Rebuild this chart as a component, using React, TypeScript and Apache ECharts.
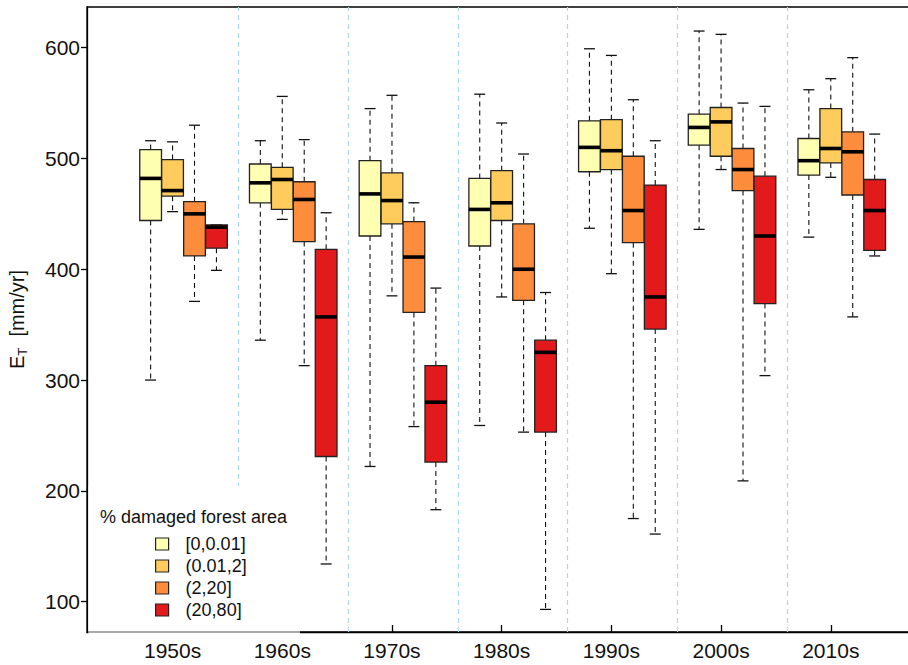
import React, { useRef, useEffect } from 'react'
import * as echarts from 'echarts'

// decades on the x axis
const decades = ['1950s', '1960s', '1970s', '1980s', '1990s', '2000s', '2010s']
// damaged forest area classes
const classNames = ['[0,0.01]', '(0.01,2]', '(2,20]', '(20,80]']
const classColors = ['#ffffb2', '#fecc5c', '#fd8d3c', '#e31a1c']

// per decade: [lower whisker, Q1, median, Q3, upper whisker]  (mm/yr)
const class1 = [
  [300, 444, 482, 508, 516],
  [336, 460, 478, 495, 516],
  [222, 430, 468, 498, 545],
  [259, 421, 454, 482, 558],
  [437, 488, 510, 534, 599],
  [436, 512, 528, 540, 615],
  [429, 485, 498, 518, 562],
]
const class2 = [
  [452, 466, 471, 499, 515],
  [445, 454, 481, 492, 556],
  [376, 441, 462, 487, 557],
  [375, 444, 460, 489, 532],
  [396, 490, 507, 535, 593],
  [490, 502, 533, 546, 612],
  [483, 496, 509, 545, 572],
]
const class3 = [
  [371, 412, 450, 461, 530],
  [313, 425, 463, 479, 517],
  [258, 361, 411, 443, 460],
  [253, 372, 400, 441, 504],
  [175, 424, 453, 502, 553],
  [209, 471, 490, 509, 550],
  [357, 467, 506, 524, 591],
]
const class4 = [
  [399, 419, 438, 440, 440],
  [134, 231, 357, 418, 451],
  [183, 226, 280, 313, 383],
  [93, 253, 325, 336, 379],
  [161, 346, 375, 476, 516],
  [304, 369, 430, 484, 547],
  [412, 417, 453, 481, 522],
]
const classData = [class1, class2, class3, class4]

const yTicks = [100, 200, 300, 400, 500, 600]
const decadeTicks = [2, 7, 12, 17, 22, 27, 32]
const dividers = [5, 10, 15, 20, 25, 30]

const FONT = 'Liberation Sans, Arial, sans-serif'

const App: React.FC = () => {
  const chartRef = useRef<HTMLDivElement>(null)

  useEffect(() => {
    if (!chartRef.current) return
    const chart = echarts.init(chartRef.current, null, { renderer: 'svg' })

    const renderBox = (params: any, api: any) => {
      const x = api.value(0)
      const lo = api.coord([x, api.value(1)])
      const q1 = api.coord([x, api.value(2)])
      const md = api.coord([x, api.value(3)])
      const q3 = api.coord([x, api.value(4)])
      const hi = api.coord([x, api.value(5)])
      const w = api.size([1, 0])[0]
      const bw = w * 0.99
      const cw = w * 0.25
      const cx = lo[0]
      const whisker = { stroke: '#111', lineWidth: 1.1, lineDash: [5, 4] }
      const cap = { stroke: '#111', lineWidth: 1.3 }
      return {
        type: 'group',
        children: [
          { type: 'line', shape: { x1: cx, y1: q3[1], x2: cx, y2: hi[1] }, style: whisker },
          { type: 'line', shape: { x1: cx, y1: q1[1], x2: cx, y2: lo[1] }, style: whisker },
          { type: 'line', shape: { x1: cx - cw, y1: hi[1], x2: cx + cw, y2: hi[1] }, style: cap },
          { type: 'line', shape: { x1: cx - cw, y1: lo[1], x2: cx + cw, y2: lo[1] }, style: cap },
          {
            type: 'rect',
            shape: { x: cx - bw / 2, y: q3[1], width: bw, height: q1[1] - q3[1] },
            style: { fill: api.visual('color'), stroke: '#222', lineWidth: 1.3 },
          },
          {
            type: 'line',
            shape: { x1: cx - bw / 2, y1: md[1], x2: cx + bw / 2, y2: md[1] },
            style: { stroke: '#000', lineWidth: 3.6 },
          },
        ],
      }
    }

    const series: any[] = classData.map((rows, c) => ({
      name: classNames[c],
      type: 'custom',
      renderItem: renderBox,
      itemStyle: { color: classColors[c], borderColor: '#000', borderWidth: 1 },
      encode: { x: 0, y: [1, 2, 3, 4, 5] },
      data: rows.map((r, d) => [1 + 5 * d + c, ...r]),
      z: 3,
      markLine:
        c === 0
          ? {
              silent: true,
              symbol: 'none',
              label: { show: false },
              lineStyle: { color: '#add8e6', width: 1.2, type: [5, 4] },
              data: dividers.map((v) => ({ xAxis: v })),
              z: 1,
            }
          : undefined,
    }))

    chart.setOption({
      animation: false,
      grid: {
        left: 87,
        top: 7,
        width: 830,
        height: 625,
        show: true,
        borderColor: '#000',
        borderWidth: 1.3,
        backgroundColor: 'transparent',
        outerBoundsMode: 'none',
      },
      xAxis: {
        type: 'value',
        min: -1.9,
        max: 35.93,
        splitLine: { show: false },
        axisLine: { show: true, onZero: false, lineStyle: { color: '#000', width: 1.3 } },
        axisTick: {
          show: true,
          inside: true,
          length: 7,
          customValues: decadeTicks,
          lineStyle: { color: '#000', width: 1.3 },
        },
        axisLabel: {
          customValues: decadeTicks,
          formatter: (v: number) => decades[Math.round((v - 2) / 5)] ?? '',
          fontSize: 21,
          color: '#111',
          fontFamily: FONT,
          margin: 8,
        },
      },
      yAxis: {
        type: 'value',
        min: 72.6,
        max: 636.7,
        splitLine: { show: false },
        axisLine: { show: true, onZero: false, lineStyle: { color: '#000', width: 1.3 } },
        axisTick: {
          show: true,
          length: 6,
          customValues: yTicks,
          lineStyle: { color: '#000', width: 1.3 },
        },
        axisLabel: {
          customValues: yTicks,
          fontSize: 21,
          color: '#111',
          fontFamily: FONT,
          margin: 7,
        },
        name: '{e|E}{t|T}{e|  [mm/yr]}',
        nameLocation: 'middle',
        nameGap: 58,
        nameRotate: 90,
        nameTextStyle: {
          color: '#111',
          fontFamily: FONT,
          fontSize: 20,
          rich: {
            e: { fontSize: 20, lineHeight: 24, verticalAlign: 'middle', fontFamily: FONT, color: '#111' },
            t: { fontSize: 13, verticalAlign: 'bottom', fontFamily: FONT, color: '#111' },
          },
        },
      },
      legend: {
        data: classNames,
        orient: 'vertical',
        left: 155,
        top: 535,
        padding: 0,
        itemWidth: 13,
        itemHeight: 12,
        itemGap: 4,
        icon: 'rect',
        itemStyle: { borderColor: '#222', borderWidth: 1.2 },
        textStyle: {
          fontSize: 18,
          lineHeight: 18,
          color: '#111',
          fontFamily: FONT,
          padding: [0, 0, 0, 12],
        },
        selectedMode: false,
        z: 6,
      },
      graphic: [
        {
          type: 'rect',
          shape: { x: 88.6, y: 486, width: 211.4, height: 148 },
          style: { fill: '#fff' },
          z: 5,
          silent: true,
        },
        {
          type: 'line',
          shape: { x1: 88, y1: 632, x2: 300, y2: 632 },
          style: { stroke: '#8c8c8c', lineWidth: 1.3 },
          z: 5,
          silent: true,
        },
        {
          type: 'text',
          x: 100,
          y: 517,
          style: {
            text: '% damaged forest area',
            fontSize: 18,
            fontFamily: FONT,
            fill: '#111',
            verticalAlign: 'middle',
          },
          z: 6,
          silent: true,
        },
      ],
      series,
    })

    return () => {
      chart.dispose()
    }
  }, [])

  return (
    <div
      ref={chartRef}
      style={{ position: 'absolute', left: 0, top: 0, width: '908px', height: '665px' }}
    />
  )
}

export default App
